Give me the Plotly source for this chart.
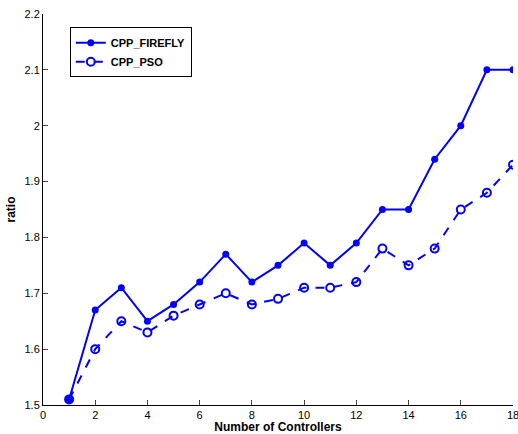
import plotly.graph_objects as go

controllers = list(range(1, 19))
cpp_firefly = [1.51, 1.67, 1.71, 1.65, 1.68, 1.72, 1.77, 1.72, 1.75, 1.79, 1.75, 1.79, 1.85, 1.85, 1.94, 2.00, 2.10, 2.10]
cpp_pso = [1.51, 1.60, 1.65, 1.63, 1.66, 1.68, 1.70, 1.68, 1.69, 1.71, 1.71, 1.72, 1.78, 1.75, 1.78, 1.85, 1.88, 1.93]
x_ticks = list(range(0, 19, 2))
y_ticks = [1.5, 1.6, 1.7, 1.8, 1.9, 2.0, 2.1, 2.2]
y_tick_labels = ["1.5", "1.6", "1.7", "1.8", "1.9", "2", "2.1", "2.2"]

blue = "#0000FF"
fig = go.Figure()
fig.add_trace(go.Scatter(x=controllers, y=cpp_firefly, name="CPP_FIREFLY", mode="lines+markers",
                         line=dict(color=blue, width=2),
                         marker=dict(symbol="circle", size=7, color=blue)))
fig.add_trace(go.Scatter(x=controllers, y=cpp_pso, name="CPP_PSO", mode="lines+markers",
                         line=dict(color=blue, width=2, dash="dash"),
                         marker=dict(symbol="circle-open", size=8, color=blue, line=dict(width=2))))

font = "Liberation Sans, Arial, sans-serif"
fig.update_layout(
    width=518, height=434,
    margin=dict(l=43, r=5, t=14, b=29),
    paper_bgcolor="white", plot_bgcolor="white",
    font=dict(family=font, size=11, color="black"),
    showlegend=True,
    legend=dict(x=0.057, y=0.966, xanchor="left", yanchor="top",
                bordercolor="black", borderwidth=1, bgcolor="white",
                font=dict(family=font, size=11, color="black", weight="bold"),
                tracegroupgap=0, itemwidth=30),
    xaxis=dict(range=[0, 18], tickvals=x_ticks, ticks="inside", ticklen=5,
               showline=True, linecolor="black", linewidth=1, showgrid=False, zeroline=False,
               automargin=False, ticklabeloverflow="allow",
               title=dict(text="<b>Number of Controllers</b>", font=dict(size=12), standoff=2),
               tickfont=dict(size=11)),
    yaxis=dict(range=[1.5, 2.2], tickvals=y_ticks, ticktext=y_tick_labels, ticks="inside", ticklen=5,
               showline=True, linecolor="black", linewidth=1, showgrid=False, zeroline=False,
               automargin=False, ticklabeloverflow="allow",
               title=dict(text="<b>ratio</b>", font=dict(size=12), standoff=6),
               tickfont=dict(size=11)),
)
fig.write_html("out.html", config={"displayModeBar": False},
               post_script="document.body.style.margin='0';document.body.style.overflow='hidden';")
